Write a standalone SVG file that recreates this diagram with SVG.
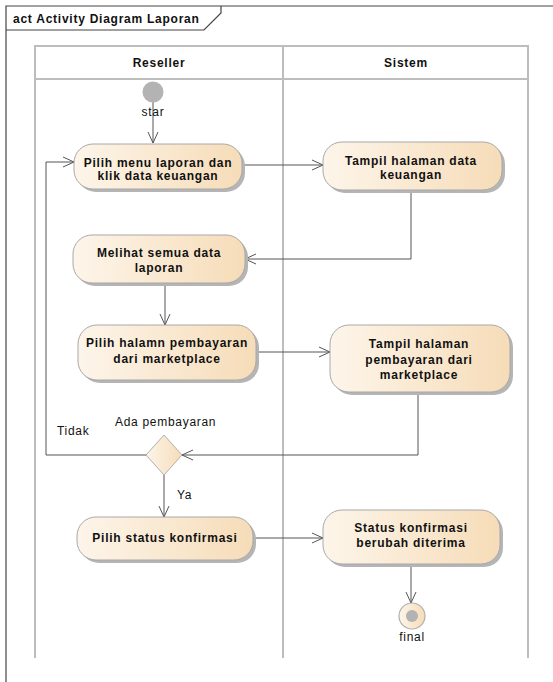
<svg xmlns="http://www.w3.org/2000/svg" width="553" height="682" viewBox="0 0 553 682">
  <defs>
    <linearGradient id="actFill" x1="0" y1="0" x2="1" y2="0">
      <stop offset="0" stop-color="#fdf5ea"/>
      <stop offset="1" stop-color="#f6dcb8"/>
    </linearGradient>
    <marker id="open" viewBox="0 0 12 12" refX="11" refY="6" markerWidth="12" markerHeight="12" markerUnits="userSpaceOnUse" orient="auto">
      <path d="M0,1 L11,6 L0,11" fill="none" stroke="#555" stroke-width="1"/>
    </marker>
  </defs>
  <style>
    .frame { fill: none; stroke: #444; stroke-width: 1.2; }
    .lane { fill: none; stroke: #bdbdbd; stroke-width: 2; }
    .act { fill: url(#actFill); stroke: #a8a8a8; stroke-width: 1; }
    .shadow { fill: #b5b5b5; }
    .lbl { font-family: "Liberation Sans", Arial, sans-serif; font-size: 12px; font-weight: bold; fill: #111; text-anchor: middle; letter-spacing: 0.75px; }
    .plain { font-family: "Liberation Sans", Arial, sans-serif; font-size: 12px; fill: #111; letter-spacing: 0.7px; }
    .edge { fill: none; stroke: #555; stroke-width: 1; marker-end: url(#open); }
  </style>
  <rect width="553" height="682" fill="#fff"/>

  <!-- frame and title tab -->
  <g id="frame">
    <path class="frame" d="M6,682 V6 H553"/>
    <path class="frame" d="M6,30 H204 L221,13 V6"/>
    <text x="13" y="23" class="lbl" style="text-anchor:start">act Activity Diagram Laporan</text>
  </g>

  <!-- swimlanes (open at the bottom) -->
  <g id="lanes">
    <path class="lane" d="M35,658 V46 H528 V658"/>
    <line class="lane" x1="35" y1="79" x2="528" y2="79"/>
    <line class="lane" x1="283" y1="46" x2="283" y2="658"/>
    <text x="159" y="67" class="lbl">Reseller</text>
    <text x="406" y="67" class="lbl">Sistem</text>
  </g>

  <!-- connectors -->
  <g id="connectors">
    <line class="edge" x1="153" y1="100" x2="153" y2="143"/>
    <line class="edge" x1="242" y1="165" x2="323" y2="165"/>
    <polyline class="edge" points="411,190 411,259 245,259"/>
    <line class="edge" x1="165" y1="283" x2="165" y2="325"/>
    <line class="edge" x1="256" y1="352" x2="330" y2="352"/>
    <polyline class="edge" points="418,392 418,455 182,455"/>
    <polyline class="edge" points="147,455 46,455 46,162 74,162"/>
    <line class="edge" x1="164" y1="475" x2="164" y2="517"/>
    <line class="edge" x1="253" y1="538" x2="323" y2="538"/>
    <line class="edge" x1="411" y1="564" x2="411" y2="603"/>
    <text x="115" y="426" class="plain">Ada pembayaran</text>
    <text x="57" y="435" class="plain">Tidak</text>
    <text x="177" y="499" class="plain">Ya</text>
  </g>

  <g id="start">
    <circle cx="153" cy="92" r="10.5" fill="#b3b3b3"/>
    <text x="153" y="116" class="plain" style="text-anchor:middle">star</text>
  </g>

  <g id="pilihMenu">
    <rect class="shadow" x="77" y="147" width="168" height="45" rx="19"/>
    <rect class="act" x="74" y="144" width="168" height="45" rx="19"/>
    <text x="158" y="167" class="lbl">Pilih menu laporan dan</text>
    <text x="158" y="180" class="lbl">klik data keuangan</text>
  </g>

  <g id="tampilKeuangan">
    <rect class="shadow" x="326" y="145" width="179" height="48" rx="19"/>
    <rect class="act" x="323" y="142" width="179" height="48" rx="19"/>
    <text x="411" y="165" class="lbl">Tampil halaman data</text>
    <text x="411" y="179" class="lbl">keuangan</text>
  </g>

  <g id="melihatLaporan">
    <rect class="shadow" x="76" y="238" width="172" height="48" rx="19"/>
    <rect class="act" x="73" y="235" width="172" height="48" rx="19"/>
    <text x="159" y="257" class="lbl">Melihat semua data</text>
    <text x="159" y="272" class="lbl">laporan</text>
  </g>

  <g id="pilihPembayaran">
    <rect class="shadow" x="81" y="328" width="178" height="55" rx="19"/>
    <rect class="act" x="78" y="325" width="178" height="55" rx="19"/>
    <text x="167" y="347" class="lbl">Pilih halamn pembayaran</text>
    <text x="167" y="363" class="lbl">dari marketplace</text>
  </g>

  <g id="tampilPembayaran">
    <rect class="shadow" x="333" y="328" width="180" height="67" rx="19"/>
    <rect class="act" x="330" y="325" width="180" height="67" rx="19"/>
    <text x="419" y="348" class="lbl">Tampil halaman</text>
    <text x="419" y="364" class="lbl">pembayaran dari</text>
    <text x="419" y="379" class="lbl">marketplace</text>
  </g>

  <g id="decision">
    <polygon points="164,435 182,455 164,475 146,455" fill="url(#actFill)" stroke="#b0b0b0" stroke-width="1"/>
  </g>

  <g id="pilihStatus">
    <rect class="shadow" x="80" y="520" width="176" height="43" rx="19"/>
    <rect class="act" x="77" y="517" width="176" height="43" rx="19"/>
    <text x="165" y="542" class="lbl">Pilih status konfirmasi</text>
  </g>

  <g id="statusBerubah">
    <rect class="shadow" x="326" y="513" width="177" height="54" rx="19"/>
    <rect class="act" x="323" y="510" width="177" height="54" rx="19"/>
    <text x="411" y="532" class="lbl">Status konfirmasi</text>
    <text x="411" y="547" class="lbl">berubah diterima</text>
  </g>

  <g id="final">
    <circle cx="412" cy="616" r="13" fill="url(#actFill)" stroke="#b0b0b0" stroke-width="1.2"/>
    <circle cx="412" cy="616" r="6" fill="#b3b3b3"/>
    <text x="412" y="641" class="plain" style="text-anchor:middle">final</text>
  </g>
</svg>
